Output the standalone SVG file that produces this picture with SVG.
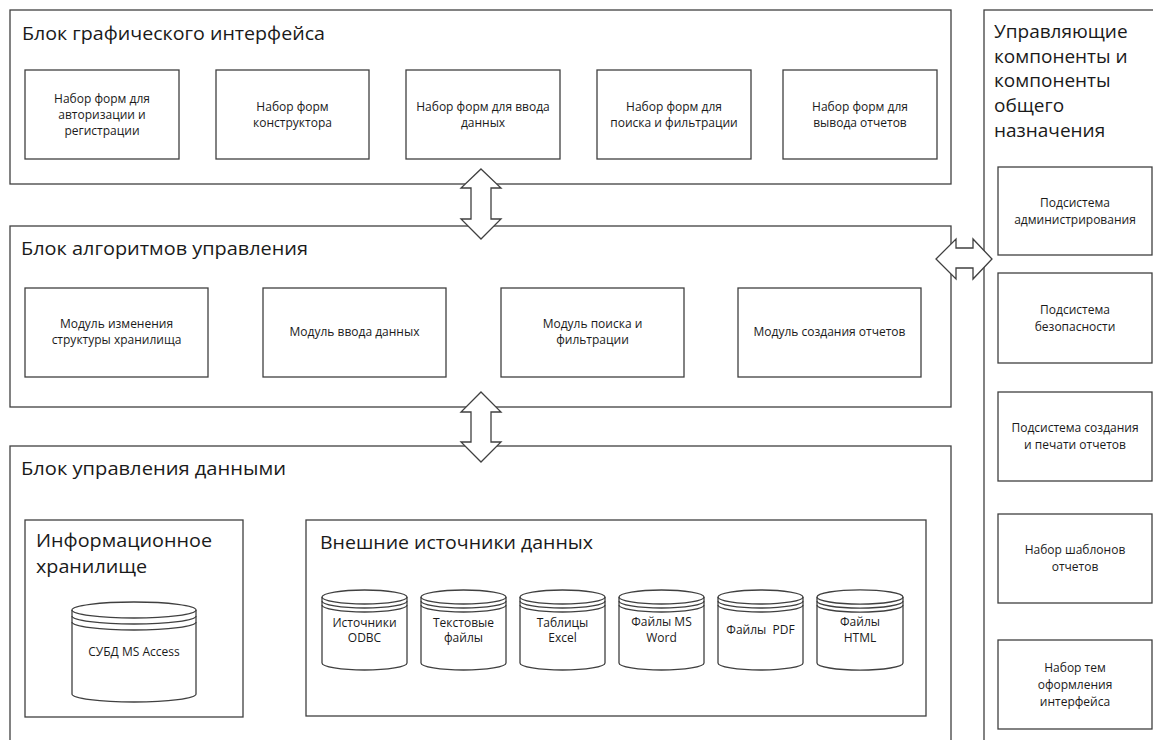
<svg xmlns="http://www.w3.org/2000/svg" width="1153" height="740" viewBox="0 0 1153 740">
<style>
rect, .cyl, polygon { fill: #ffffff; stroke: #404040; stroke-width: 1.3; }
.cl { fill: none; stroke: #404040; stroke-width: 1.3; }
text { font-family: "Open Sans", "Noto Sans", "DejaVu Sans", sans-serif; fill: #1a1a1a; }
.t { font-size: 19px; }
.s { font-size: 12px; text-anchor: middle; }
</style>
<rect x="0" y="0" width="1153" height="740" style="stroke:none"/>

<g id="block-gui">
  <rect x="10" y="10" width="941" height="174"/>
  <text class="t" x="22" y="40" textLength="303" lengthAdjust="spacingAndGlyphs">Блок графического интерфейса</text>
</g>
<g id="gui-auth"><rect x="25" y="70" width="154" height="89"/>
  <text class="s" x="102" y="103">Набор форм для</text><text class="s" x="102" y="119">авторизации и</text><text class="s" x="102" y="135">регистрации</text></g>
<g id="gui-constructor"><rect x="216" y="70" width="153" height="89"/>
  <text class="s" x="292.5" y="111">Набор форм</text><text class="s" x="292.5" y="127">конструктора</text></g>
<g id="gui-input"><rect x="406" y="70" width="154" height="89"/>
  <text class="s" x="483" y="111">Набор форм для ввода</text><text class="s" x="483" y="127">данных</text></g>
<g id="gui-search"><rect x="597" y="70" width="154" height="89"/>
  <text class="s" x="674" y="111">Набор форм для</text><text class="s" x="674" y="127">поиска и фильтрации</text></g>
<g id="gui-reports"><rect x="783" y="70" width="154" height="89"/>
  <text class="s" x="860" y="111">Набор форм для</text><text class="s" x="860" y="127">вывода отчетов</text></g>

<g id="block-algo">
  <rect x="10" y="226" width="941" height="181"/>
  <text class="t" x="21" y="255" textLength="287" lengthAdjust="spacingAndGlyphs">Блок алгоритмов управления</text>
</g>
<g id="algo-structure"><rect x="25" y="288" width="183" height="89"/>
  <text class="s" x="116.5" y="328">Модуль изменения</text><text class="s" x="116.5" y="344">структуры хранилища</text></g>
<g id="algo-input"><rect x="263" y="288" width="183" height="89"/>
  <text class="s" x="354.5" y="336">Модуль ввода данных</text></g>
<g id="algo-search"><rect x="501" y="288" width="183" height="89"/>
  <text class="s" x="592.5" y="328">Модуль поиска и</text><text class="s" x="592.5" y="344">фильтрации</text></g>
<g id="algo-reports"><rect x="738" y="288" width="183" height="89"/>
  <text class="s" x="829.5" y="336">Модуль создания отчетов</text></g>

<g id="block-data">
  <rect x="10" y="446" width="941" height="320"/>
  <text class="t" x="21" y="475" textLength="265" lengthAdjust="spacingAndGlyphs">Блок управления данными</text>
</g>
<g id="info-storage">
  <rect x="25" y="520" width="218" height="197"/>
  <text class="t" x="36" y="547" textLength="176" lengthAdjust="spacingAndGlyphs">Информационное</text>
  <text class="t" x="36" y="573" textLength="111" lengthAdjust="spacingAndGlyphs">хранилище</text>
</g>
<g id="db-access">
  <path class="cyl" d="M72,610 A62,8 0 0 1 196,610 L196,694 A62,8 0 0 1 72,694 Z"/>
  <path class="cl" d="M72,610 A62,8 0 0 0 196,610 M72,616 A62,8 0 0 0 196,616 M72,622 A62,8 0 0 0 196,622"/>
  <text class="s" x="134" y="656">СУБД MS Access</text>
</g>
<g id="external-sources">
  <rect x="306" y="520" width="620" height="196"/>
  <text class="t" x="320" y="549" textLength="273" lengthAdjust="spacingAndGlyphs">Внешние источники данных</text>
</g>
<g id="src-odbc">
  <path class="cyl" d="M322,597 A42.5,7 0 0 1 407,597 L407,663 A42.5,7 0 0 1 322,663 Z"/>
  <path class="cl" d="M322,597 A42.5,7 0 0 0 407,597 M322,601 A42.5,7 0 0 0 407,601 M322,605 A42.5,7 0 0 0 407,605"/>
  <text class="s" x="364.5" y="627">Источники</text><text class="s" x="364.5" y="642">ODBC</text>
</g>
<g id="src-text">
  <path class="cyl" d="M421,597 A42.5,7 0 0 1 506,597 L506,663 A42.5,7 0 0 1 421,663 Z"/>
  <path class="cl" d="M421,597 A42.5,7 0 0 0 506,597 M421,601 A42.5,7 0 0 0 506,601 M421,605 A42.5,7 0 0 0 506,605"/>
  <text class="s" x="463.5" y="627">Текстовые</text><text class="s" x="463.5" y="642">файлы</text>
</g>
<g id="src-excel">
  <path class="cyl" d="M520,597 A42.5,7 0 0 1 605,597 L605,663 A42.5,7 0 0 1 520,663 Z"/>
  <path class="cl" d="M520,597 A42.5,7 0 0 0 605,597 M520,601 A42.5,7 0 0 0 605,601 M520,605 A42.5,7 0 0 0 605,605"/>
  <text class="s" x="562.5" y="627">Таблицы</text><text class="s" x="562.5" y="642">Excel</text>
</g>
<g id="src-word">
  <path class="cyl" d="M619,597 A42.5,7 0 0 1 704,597 L704,663 A42.5,7 0 0 1 619,663 Z"/>
  <path class="cl" d="M619,597 A42.5,7 0 0 0 704,597 M619,601 A42.5,7 0 0 0 704,601 M619,605 A42.5,7 0 0 0 704,605"/>
  <text class="s" x="661.5" y="626">Файлы MS</text><text class="s" x="661.5" y="642">Word</text>
</g>
<g id="src-pdf">
  <path class="cyl" d="M718,597 A42.5,7 0 0 1 803,597 L803,663 A42.5,7 0 0 1 718,663 Z"/>
  <path class="cl" d="M718,597 A42.5,7 0 0 0 803,597 M718,601 A42.5,7 0 0 0 803,601 M718,605 A42.5,7 0 0 0 803,605"/>
  <text class="s" x="760.5" y="634" xml:space="preserve">Файлы  PDF</text>
</g>
<g id="src-html">
  <path class="cyl" d="M817,597 A42.5,7 0 0 1 903,597 L903,663 A42.5,7 0 0 1 817,663 Z"/>
  <path class="cl" d="M817,597 A42.5,7 0 0 0 903,597 M817,601 A42.5,7 0 0 0 903,601 M817,605 A42.5,7 0 0 0 903,605"/>
  <text class="s" x="860" y="626">Файлы</text><text class="s" x="860" y="642">HTML</text>
</g>

<g id="block-common">
  <rect x="984" y="10" width="190" height="760"/>
  <text class="t" x="994" y="38">Управляющие</text>
  <text class="t" x="994" y="63">компоненты и</text>
  <text class="t" x="994" y="87">компоненты</text>
  <text class="t" x="994" y="112">общего</text>
  <text class="t" x="994" y="137">назначения</text>
</g>
<g id="sub-admin"><rect x="998" y="167" width="154" height="88"/>
  <text class="s" x="1075" y="207">Подсистема</text><text class="s" x="1075" y="224">администрирования</text></g>
<g id="sub-security"><rect x="998" y="273" width="154" height="90"/>
  <text class="s" x="1075" y="314">Подсистема</text><text class="s" x="1075" y="331">безопасности</text></g>
<g id="sub-print"><rect x="998" y="392" width="154" height="89"/>
  <text class="s" x="1075" y="432">Подсистема создания</text><text class="s" x="1075" y="449">и печати отчетов</text></g>
<g id="report-templates"><rect x="998" y="514" width="154" height="89"/>
  <text class="s" x="1075" y="554">Набор шаблонов</text><text class="s" x="1075" y="571">отчетов</text></g>
<g id="ui-themes"><rect x="998" y="640" width="154" height="89"/>
  <text class="s" x="1075" y="672">Набор тем</text><text class="s" x="1075" y="689">оформления</text><text class="s" x="1075" y="706">интерфейса</text></g>

<g id="connectors">
  <polygon points="481,169 501,188 491,188 491,219 501,219 481,239 461,219 471,219 471,188 461,188"/>
  <polygon points="481,392 501,412 491,412 491,442 501,442 481,462 461,442 471,442 471,412 461,412"/>
  <polygon points="936,259 956,239 956,248 973,248 973,239 992,259 973,279 973,268 956,268 956,279"/>
</g>
</svg>
